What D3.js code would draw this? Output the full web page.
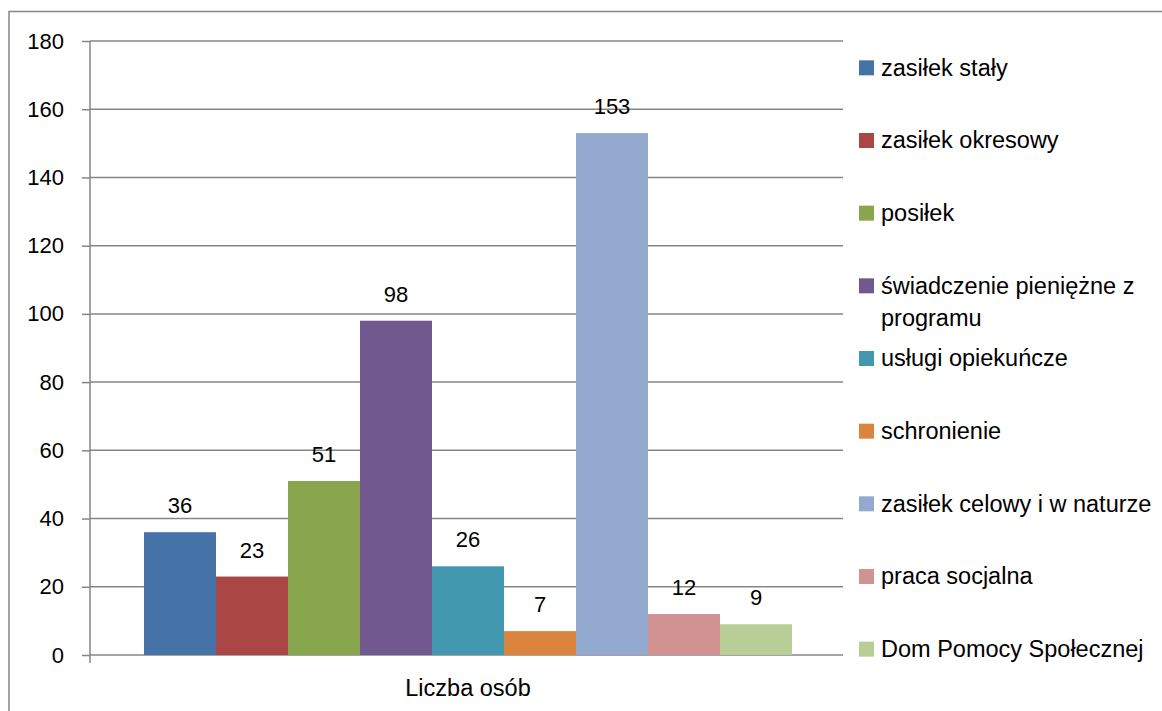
<!DOCTYPE html>
<html><head><meta charset="utf-8">
<script src="https://cdn.jsdelivr.net/npm/d3@7"></script>
<style>body{margin:0;background:#fff}svg{display:block}text{font-family:"Liberation Sans",Arial,sans-serif;fill:#000}</style>
</head><body>
<svg id="c" width="1162" height="711"></svg>
<script>
const categories = ["zasiłek stały","zasiłek okresowy","posiłek","świadczenie pieniężne z programu","usługi opiekuńcze","schronienie","zasiłek celowy i w naturze","praca socjalna","Dom Pomocy Społecznej"];
const legendLines = [["zasiłek stały"],["zasiłek okresowy"],["posiłek"],["świadczenie pieniężne z","programu"],["usługi opiekuńcze"],["schronienie"],["zasiłek celowy i w naturze"],["praca socjalna"],["Dom Pomocy Społecznej"]];
const values = [36,23,51,98,26,7,153,12,9];
const colors = ["#4572A7","#AA4643","#89A54E","#71588F","#4198AF","#DB843D","#93A9CF","#D19392","#B9CD96"];
const groupLabel = ["Liczba osób"];
const yTicks = [0,20,40,60,80,100,120,140,160,180];

(function(){
const svg = d3.select("#c");
svg.append("rect").attr("x",9).attr("y",11.5).attr("width",1160).attr("height",710)
  .attr("fill","none").attr("stroke","#868686").attr("stroke-width",1.5);

const pL=90, pR=843, pT=41, pB=655;
const y = d3.scaleLinear().domain([0,180]).range([pB,pT]);
const x0 = d3.scaleBand().domain(groupLabel).range([pL+1.5,pR+1.5]).paddingInner(0).paddingOuter(0.081);
const x1 = d3.scaleBand().domain(categories).range([x0(groupLabel[0]), x0(groupLabel[0])+x0.bandwidth()]);

svg.append("g").selectAll("line").data(yTicks.filter(d=>d>0)).join("line")
  .attr("x1",pL).attr("x2",pR).attr("y1",d=>y(d)).attr("y2",d=>y(d))
  .attr("stroke","#868686").attr("stroke-width",1.5);

const ya = svg.append("g").attr("transform",`translate(${pL},0)`)
  .call(d3.axisLeft(y).tickValues(yTicks).tickSize(8).tickPadding(18));
ya.select(".domain").attr("stroke","#868686").attr("stroke-width",1.5).attr("d",`M0,${pT}V${pB+8}`);
ya.selectAll(".tick line").attr("stroke","#868686").attr("stroke-width",1.5);
ya.selectAll(".tick text").attr("font-size",22).attr("font-family","Liberation Sans, Arial, sans-serif").attr("fill","#000");

const xa = svg.append("g").attr("transform",`translate(0,${pB})`)
  .call(d3.axisBottom(x0).tickSize(0).tickPadding(24));
xa.select(".domain").attr("stroke","#868686").attr("stroke-width",1.5).attr("d",`M${pL},0H${pR}`);
xa.selectAll(".tick text").attr("font-size",23.5).attr("font-family","Liberation Sans, Arial, sans-serif").attr("fill","#000");

svg.append("g").selectAll("rect").data(values).join("rect")
  .attr("x",(d,i)=>x1(categories[i])).attr("width",x1.bandwidth())
  .attr("y",d=>y(d)).attr("height",d=>y(0)-y(d))
  .attr("fill",(d,i)=>colors[i]);

svg.append("g").selectAll("text").data(values).join("text")
  .attr("x",(d,i)=>x1(categories[i])+x1.bandwidth()/2).attr("y",d=>y(d)-19)
  .attr("text-anchor","middle").attr("font-size",22).text(d=>d);

const ly = d3.scaleBand().domain(categories).range([31,685]);
const lg = svg.append("g").selectAll("g").data(categories).join("g")
  .attr("transform",d=>`translate(859,${ly(d)+ly.bandwidth()/2})`);
lg.append("rect").attr("x",0).attr("y",-7).attr("width",15).attr("height",15).attr("fill",(d,i)=>colors[i]);
lg.each(function(d,i){
  const g=d3.select(this);
  legendLines[i].forEach((t,j)=>{
    g.append("text").attr("x",22).attr("y",j*32).attr("dy","0.35em").attr("font-size",23.5).text(t);
  });
});
})();
</script>
</body></html>
